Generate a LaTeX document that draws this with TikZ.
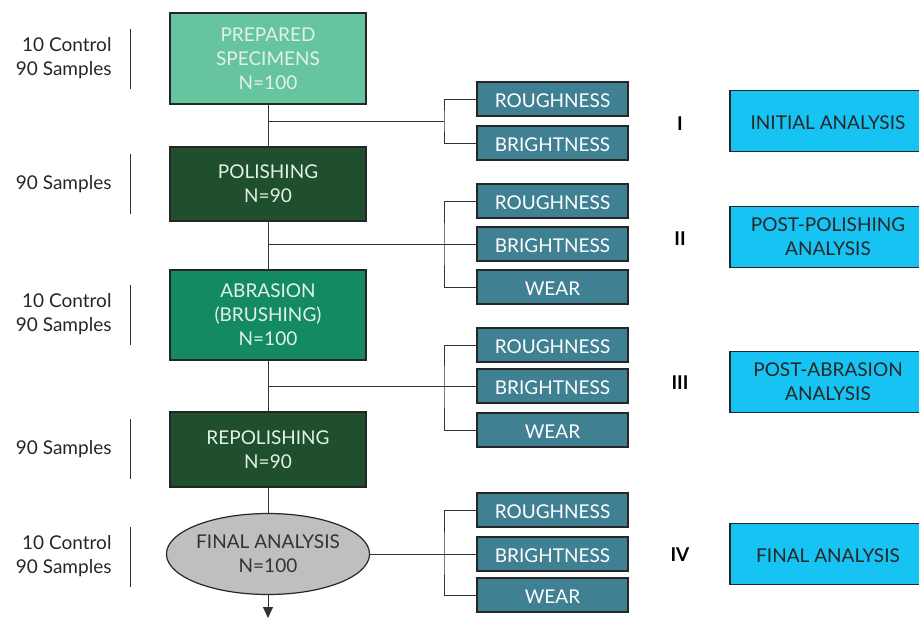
\documentclass[tikz,border=0pt]{standalone}
\usepackage{fontspec}
\setmainfont{Lato}
\usetikzlibrary{shapes.geometric, arrows.meta}

\definecolor{prepgreen}{HTML}{66C59E}
\definecolor{darkgreen}{HTML}{1F4F2D}
\definecolor{abrgreen}{HTML}{138A61}
\definecolor{measteal}{HTML}{3F8093}
\definecolor{resultcyan}{HTML}{16C3F2}
\definecolor{finalgray}{HTML}{BEBFC1}
\definecolor{mint}{HTML}{E2F2EA}

\begin{document}
\begin{tikzpicture}[x=1pt, y=-1pt,
    font=\fontsize{19}{24}\selectfont,
    stage/.style={draw=black!85, line width=1.2pt, minimum width=196pt, text=mint, align=center, inner sep=0pt},
    meas/.style={draw=black!85, line width=1.2pt, fill=measteal, text=white, minimum width=151pt, minimum height=34pt,
        text height=17pt, text depth=0pt, inner sep=0pt},
    result/.style={draw=black!85, line width=1.2pt, fill=resultcyan, text=black!85, minimum width=196pt, minimum height=61pt, align=center, inner sep=0pt},
    side/.style={anchor=east, align=right, text=black!85},
    roman/.style={font=\fontsize{19}{24}\selectfont\bfseries},
    link/.style={line width=1pt, draw=black!80}]
    \useasboundingbox (0,0) rectangle (919,619);

    % Stages
    \node[stage, fill=prepgreen, minimum height=91pt] (prep) at (268,58.5) {PREPARED\\SPECIMENS\\N=100};
    \node[stage, fill=darkgreen, minimum height=74pt] (pol) at (268,184) {POLISHING\\N=90};
    \node[stage, fill=abrgreen, minimum height=90pt] (abr) at (268,315) {ABRASION\\(BRUSHING)\\N=100};
    \node[stage, fill=darkgreen, minimum height=75pt] (repol) at (268,449.5) {REPOLISHING\\N=90};
    \node[ellipse, draw=black!85, line width=1.2pt, fill=finalgray, text=black!80, align=center,
        minimum width=194pt, minimum height=81pt, inner sep=0pt] (final) at (268,554) {FINAL ANALYSIS\\N=100};

    % Sample counts
    \node[side] (cnt1) at (115,58) {10 Control\\90 Samples};
    \node[side] (cnt2) at (115,184) {90 Samples};
    \node[side] (cnt3) at (115,314) {10 Control\\90 Samples};
    \node[side] (cnt4) at (115,449) {90 Samples};
    \node[side] (cnt5) at (115,556) {10 Control\\90 Samples};
    \draw[link] (130,29) -- (130,89);
    \draw[link] (130,154) -- (130,214);
    \draw[link] (130,285) -- (130,345);
    \draw[link] (130,419) -- (130,479);
    \draw[link] (130,527) -- (130,587);

    % Measurements
    \node[meas] (r1) at (552.5,99) {ROUGHNESS};
    \node[meas] (b1) at (552.5,143) {BRIGHTNESS};

    \node[meas] (r2) at (552.5,201) {ROUGHNESS};
    \node[meas] (b2) at (552.5,244) {BRIGHTNESS};
    \node[meas] (w2) at (552.5,287) {WEAR};

    \node[meas] (r3) at (552.5,345) {ROUGHNESS};
    \node[meas] (b3) at (552.5,386) {BRIGHTNESS};
    \node[meas] (w3) at (552.5,430) {WEAR};

    \node[meas] (r4) at (552.5,510) {ROUGHNESS};
    \node[meas] (b4) at (552.5,554) {BRIGHTNESS};
    \node[meas] (w4) at (552.5,595) {WEAR};

    % Analysis steps
    \node[roman] (n1) at (680,124) {I};
    \node[roman] (n2) at (680,239) {II};
    \node[roman] (n3) at (680,383) {III};
    \node[roman] (n4) at (680,555) {IV};

    \node[result, text height=17pt, text depth=0pt] (a1) at (828,121) {INITIAL ANALYSIS};
    \node[result] (a2) at (828,237) {POST-POLISHING\\ANALYSIS};
    \node[result] (a3) at (828,382) {POST-ABRASION\\ANALYSIS};
    \node[result, text height=17pt, text depth=0pt] (a4) at (828,554) {FINAL ANALYSIS};

    % Main line
    \coordinate (sp1) at (268,121);
    \coordinate (sp2) at (268,244);
    \coordinate (sp3) at (268,386);
    \coordinate (out) at (268,618);
    \draw[link] (prep) -- (pol);
    \draw[link] (pol) -- (abr);
    \draw[link] (abr) -- (repol);
    \draw[link] (repol) -- (final);
    \draw[link, -{Triangle[length=11pt, width=10pt]}] (final) -- (out);

    % Branches
    \coordinate (br1) at (444,121);
    \draw[link] (sp1) -- (br1);
    \draw[link] (r1.west) -| (br1) |- (b1.west);

    \coordinate (br2) at (444,244);
    \draw[link] (sp2) -- (b2.west);
    \draw[link] (r2.west) -| (br2) |- (w2.west);

    \coordinate (br3) at (444,386);
    \draw[link] (sp3) -- (b3.west);
    \draw[link] (r3.west) -| (br3) |- (w3.west);

    \coordinate (br4) at (444,554);
    \draw[link] (final.east) -- (b4.west);
    \draw[link] (r4.west) -| (br4) |- (w4.west);

\end{tikzpicture}
\end{document}
